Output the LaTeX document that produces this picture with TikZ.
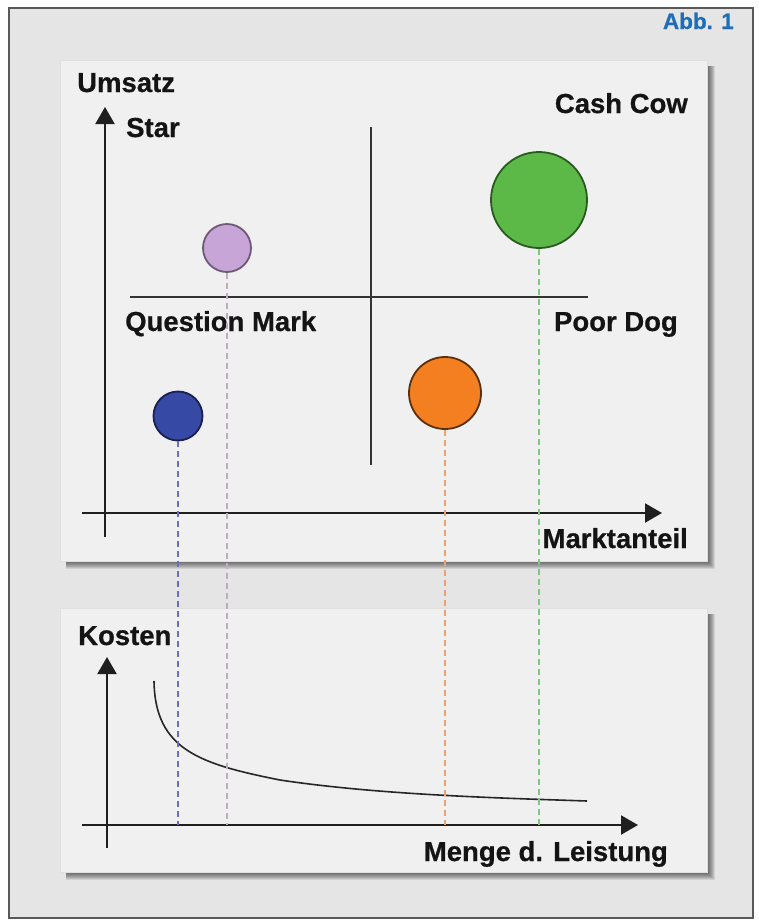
\documentclass[tikz,border=0pt]{standalone}
\usepackage{fontspec}
\setmainfont{Liberation Sans}
\newfontfamily\lblfont[FakeBold=0.6]{Liberation Sans}
\usetikzlibrary{arrows.meta}
\definecolor{framebg}{HTML}{E5E5E5}
\definecolor{panelbg}{HTML}{F0F0F0}
\definecolor{abbblue}{HTML}{1F6DB4}
\definecolor{cpurple}{HTML}{C8A5D7}
\definecolor{cpurpled}{HTML}{6E5A78}
\definecolor{cgreen}{HTML}{5CB947}
\definecolor{cgreend}{HTML}{2A5A20}
\definecolor{cblue}{HTML}{3549A5}
\definecolor{cblued}{HTML}{1A2050}
\definecolor{corange}{HTML}{F47F20}
\definecolor{coranged}{HTML}{5A3010}
\definecolor{dblue}{HTML}{6A6AD0}
\definecolor{dpurple}{HTML}{B8B0B8}
\definecolor{dorange}{HTML}{F0A070}
\definecolor{dgreen}{HTML}{7CC87C}
\begin{document}
\begin{tikzpicture}[x=1pt,y=-1pt,
  lbl/.style={font=\lblfont\fontsize{27.5}{30}\selectfont\bfseries, inner sep=0pt, text=black!92},
  axisline/.style={line width=2.2pt, draw=black!88},
  axisarrow/.style={axisline, -{Triangle[length=17pt,width=19pt]}},
  divider/.style={line width=2pt, draw=black!80},
  bubble/.style={circle, inner sep=0pt, line width=1.8pt},
  drop/.style={dashed, line width=1.4pt, dash pattern=on 6pt off 4pt},
  panel/.style={fill=panelbg, draw=black!12, line width=1pt},
  costcurve/.style={line width=1.6pt, draw=black!85}]
\useasboundingbox (0,0) rectangle (759,921);
\fill[white] (0,0) rectangle (759,921);
% outer frame
\draw[fill=framebg, draw=black!65, line width=2pt] (9,8) rectangle (753,918);
\node[anchor=base east, inner sep=0pt, text=abbblue, font=\lblfont\fontsize{22.5}{26}\selectfont\bfseries] (abb) at (734,29) {Abb. 1};
% shadows
\foreach \d in {0,...,7}{
  \fill[black, opacity=0.09] (66,66) rectangle (708+\d,562+\d);
  \fill[black, opacity=0.09] (66,614) rectangle (708+\d,873+\d);
}
% panels
\draw[panel] (60,60) rectangle (707,561);
\draw[panel] (60,608) rectangle (707,872);
% top chart
\coordinate (yaxT0) at (105,537);
\coordinate (yaxT1) at (105,107);
\coordinate (xaxT0) at (82,513);
\coordinate (xaxT1) at (662,513);
\draw[axisarrow] (yaxT0) -- (yaxT1);
\draw[axisarrow] (xaxT0) -- (xaxT1);
\coordinate (vd0) at (371,127);
\coordinate (vd1) at (371,465);
\coordinate (hd0) at (130,297);
\coordinate (hd1) at (588,297);
\draw[divider] (vd0) -- (vd1);
\draw[divider] (hd0) -- (hd1);
\node[lbl, anchor=base west] (umsatz) at (77,92) {Umsatz};
\node[lbl, anchor=base west] (star) at (126,137) {Star};
\node[lbl, anchor=base east] (cashcow) at (688,113) {Cash Cow};
\node[lbl, anchor=base west] (qmark) at (125,331) {Question Mark};
\node[lbl, anchor=base east] (poordog) at (678,331) {Poor Dog};
\node[lbl, anchor=base east] (markt) at (688,548) {Marktanteil};
% bottom chart
\coordinate (yaxB0) at (107,848);
\coordinate (yaxB1) at (107,657);
\coordinate (xaxB0) at (82,825);
\coordinate (xaxB1) at (638,825);
\draw[axisarrow] (yaxB0) -- (yaxB1);
\draw[axisarrow] (xaxB0) -- (xaxB1);
\node[lbl, anchor=base west] (kosten) at (78,645) {Kosten};
\node[lbl, anchor=base east] (menge) at (668,861) {Menge d. Leistung};
\coordinate (c0) at (154,681);
\coordinate (c1) at (280,780);
\coordinate (c2) at (587,801);
\draw[costcurve] (c0) .. controls (155,750) and (200,764) .. (c1)
  .. controls (380,795) and (500,798) .. (c2);
% bubbles
\node[bubble, minimum size=48pt, fill=cpurple, draw=cpurpled] (purple) at (227,248) {};
\node[bubble, minimum size=96pt, fill=cgreen, draw=cgreend] (green) at (539,200) {};
\node[bubble, minimum size=49pt, fill=cblue, draw=cblued] (blue) at (178,416) {};
\node[bubble, minimum size=72pt, fill=corange, draw=coranged] (orange) at (445,393) {};
% drop lines
\draw[drop, draw=dblue] (blue.south) -- (blue.south |- xaxB0);
\draw[drop, draw=dpurple] (purple.south) -- (purple.south |- xaxB0);
\draw[drop, draw=dorange] (orange.south) -- (orange.south |- xaxB0);
\draw[drop, draw=dgreen] (green.south) -- (green.south |- xaxB0);
\end{tikzpicture}
\end{document}
